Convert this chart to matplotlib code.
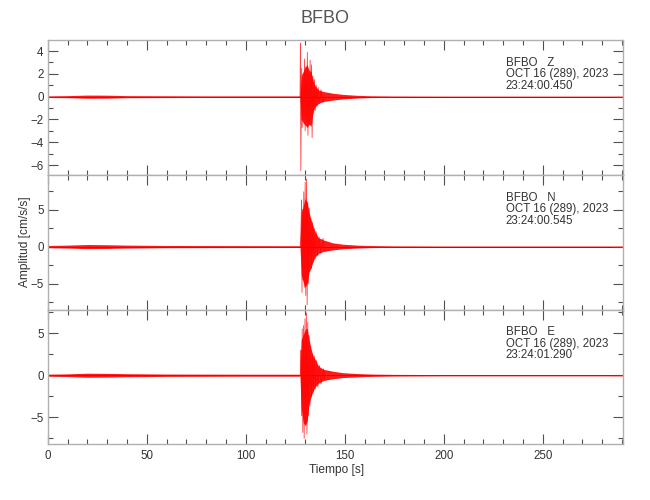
import numpy as np
import matplotlib
matplotlib.use('Agg')
import matplotlib.pyplot as plt
from matplotlib.ticker import MultipleLocator

plt.rcParams['font.family'] = ['Liberation Sans', 'DejaVu Sans']

# station / header info
station = 'BFBO'
components = ['Z', 'N', 'E']
date_str = 'OCT 16 (289), 2023'
start_times = ['23:24:00.450', '23:24:00.545', '23:24:01.290']
t_end = 290.7

# envelope of the traces, seconds / cm/s/s
env_t = [0, 10, 20, 30, 40, 60, 80, 100, 120, 127.4, 128.0, 129.0, 130.0, 131.0,
         132.0, 133.0, 134.0, 135.0, 136.7, 139.2, 144.0, 149.0, 156.0, 163.0,
         175.0, 200.0, 250.0, 290.7]
env_hi_z = [0.07, 0.09, 0.14, 0.13, 0.09, 0.08, 0.07, 0.07, 0.07, 0.07, 1.8, 2.2, 2.6,
            2.8, 2.3, 2.2, 1.4, 0.95, 0.6, 0.45, 0.3, 0.2, 0.12, 0.08, 0.06, 0.05, 0.05, 0.05]
env_lo_z = [-0.07, -0.09, -0.14, -0.13, -0.09, -0.08, -0.07, -0.07, -0.07, -0.07, -2.0,
            -2.3, -2.5, -2.7, -2.4, -2.6, -1.3, -0.9, -0.6, -0.42, -0.3, -0.2, -0.12,
            -0.08, -0.06, -0.05, -0.05, -0.05]
env_hi_n = [0.15, 0.2, 0.28, 0.25, 0.2, 0.15, 0.14, 0.13, 0.12, 0.12, 4.5, 5.5, 6.5,
            6.0, 4.6, 3.6, 2.8, 2.0, 1.2, 0.9, 0.5, 0.32, 0.2, 0.14, 0.1, 0.08, 0.08, 0.08]
env_lo_n = [-0.15, -0.2, -0.28, -0.25, -0.2, -0.15, -0.14, -0.13, -0.12, -0.12, -3.8,
            -4.8, -5.5, -5.0, -3.4, -2.8, -2.0, -1.4, -0.95, -0.65, -0.45, -0.3, -0.2,
            -0.14, -0.1, -0.08, -0.08, -0.08]
env_hi_e = [0.12, 0.16, 0.24, 0.22, 0.18, 0.14, 0.13, 0.12, 0.12, 0.12, 4.2, 4.8, 5.4,
            5.6, 4.2, 3.1, 2.3, 1.9, 1.1, 0.7, 0.48, 0.3, 0.2, 0.14, 0.1, 0.08, 0.08, 0.08]
env_lo_e = [-0.12, -0.16, -0.24, -0.22, -0.18, -0.14, -0.13, -0.12, -0.12, -0.12, -3.8,
            -5.6, -6.0, -5.5, -3.4, -2.5, -1.9, -1.4, -0.95, -0.62, -0.42, -0.28, -0.2,
            -0.14, -0.1, -0.08, -0.08, -0.08]

# largest swings of each trace
spk_t_z = [127.4, 127.6, 127.8, 128.2, 128.5, 128.9, 129.3, 129.7, 130.0, 130.4, 130.8,
           131.1, 131.4, 131.8, 132.1, 132.5, 132.8, 133.2, 133.5, 133.9, 134.3, 134.7,
           135.1, 135.6, 136.0, 136.6, 137.2, 138.0, 139.0, 140.0]
spk_v_z = [0.0, 4.7, -6.5, 2.5, -2.7, 2.0, -2.0, 3.3, -3.0, 2.6, -2.2, 3.9, -3.4, 2.0,
           -2.5, 3.2, -2.0, 2.8, -3.6, 1.8, -1.5, 1.5, -1.2, 1.0, -0.8, 0.8, -0.6, 0.6,
           -0.5, 0.0]
spk_t_n = [127.6, 127.9, 128.2, 128.4, 128.7, 129.0, 129.3, 129.6, 130.0, 130.3, 130.7,
           131.0, 131.3, 131.6, 132.0, 132.4, 132.8, 133.2, 133.6, 134.0, 134.5, 135.0,
           135.6, 136.2, 137.0, 137.8, 139.0, 140.0]
spk_v_n = [0.0, 2.5, 6.3, -6.2, 5.0, -4.5, 7.4, -5.5, 8.7, -6.6, 9.1, -7.9, 6.0, -5.0,
           5.2, -3.4, 3.8, -3.0, 3.3, -2.1, 2.4, -1.6, 2.0, -1.2, 1.3, -0.9, 1.1, -0.7]
spk_t_e = [127.6, 127.9, 128.2, 128.5, 128.8, 129.2, 129.5, 129.9, 130.2, 130.6, 130.9,
           131.3, 131.6, 132.0, 132.4, 132.8, 133.2, 133.7, 134.1, 134.6, 135.1, 135.8,
           136.4, 137.2, 138.0, 139.2, 140.0]
spk_v_e = [0.0, 3.0, -4.8, 5.5, -6.8, 5.9, -7.5, 6.7, -5.8, 7.4, -7.0, 6.3, -4.8, 4.7,
           -3.6, 3.5, -2.6, 2.5, -2.0, 2.3, -1.6, 1.75, -1.4, 1.15, -1.0, 0.76, -0.6]

# plot ranges for each panel
ylims = [(-6.85, 4.97), (-8.5, 9.7), (-8.2, 7.8)]
ymajor = [2, 5, 5]
yminor = [1, 2.5, 2.5]

env_hi = [env_hi_z, env_hi_n, env_hi_e]
env_lo = [env_lo_z, env_lo_n, env_lo_e]
spk_t = [spk_t_z, spk_t_n, spk_t_e]
spk_v = [spk_v_z, spk_v_n, spk_v_e]

frame_col = '#b0b0b0'
tick_col = '#505050'
text_col = '#333333'

fig = plt.figure(figsize=(6.5, 5), dpi=100)
fig.subplots_adjust(left=0.0735, right=0.959, bottom=0.1114, top=0.92, hspace=0)
axes = fig.subplots(3, 1, sharex=True)

for i, ax in enumerate(axes):
    # zero line under the trace
    ax.axhline(0, color='black', lw=0.6, zorder=1)
    ax.fill_between(env_t, env_lo[i], env_hi[i], color='red', lw=0, alpha=0.9, zorder=2)
    ax.plot(spk_t[i], spk_v[i], color='red', lw=0.6, alpha=0.75, zorder=3)

    ax.set_xlim(0, t_end)
    ax.set_ylim(*ylims[i])
    ax.xaxis.set_major_locator(MultipleLocator(50))
    ax.xaxis.set_minor_locator(MultipleLocator(10))
    ax.yaxis.set_major_locator(MultipleLocator(ymajor[i]))
    ax.yaxis.set_minor_locator(MultipleLocator(yminor[i]))
    ax.tick_params(which='both', direction='in', top=True, right=True,
                   color=tick_col, width=0.8, labelcolor=text_col, labelsize=8.3, pad=3)
    ax.tick_params(which='major', length=7)
    ax.tick_params(which='minor', length=3.5)
    for sp in ax.spines.values():
        sp.set_color(frame_col)
        sp.set_linewidth(1.0)

    ax.text(0.796, 0.875, '%s   %s\n%s\n%s' % (station, components[i], date_str, start_times[i]),
            transform=ax.transAxes, ha='left', va='top', fontsize=8.3, color=text_col,
            linespacing=0.95)

axes[-1].tick_params(axis='x', pad=4)
fig.suptitle(station, y=0.98, fontsize=13, color='#555555')
fig.text(0.518, 0.06, 'Tiempo [s]', ha='center', va='center', fontsize=8.6, color=text_col)
fig.text(0.038, 0.516, 'Amplitud [cm/s/s]', rotation=90, ha='center', va='center',
         fontsize=8.6, color=text_col)

fig.savefig('out.png', dpi=100)
